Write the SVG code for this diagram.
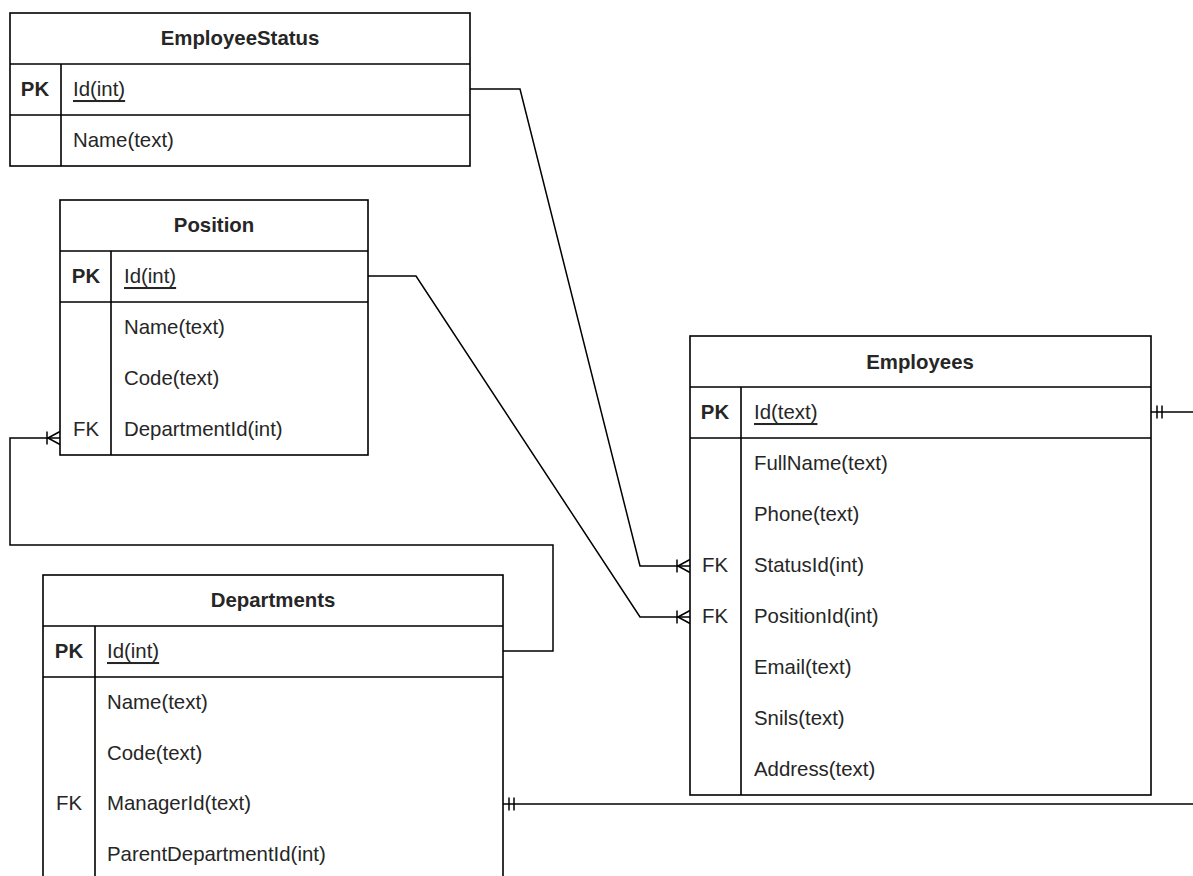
<svg xmlns="http://www.w3.org/2000/svg" width="1193" height="876" viewBox="0 0 1193 876">
<style>
.box{fill:#fff;stroke:#000;stroke-width:1.6}
.ln{fill:none;stroke:#000;stroke-width:1.6}
.t{font-family:"Liberation Sans",Arial,sans-serif;font-size:20.4px;fill:#262626;dominant-baseline:central}
.h{font-weight:bold;text-anchor:middle}
.k{font-weight:bold;text-anchor:middle}
.fk{text-anchor:middle}
.u{text-decoration:underline}
.c{fill:none;stroke:#000;stroke-width:1.5}
</style>
<defs>
<marker id="many" markerUnits="userSpaceOnUse" viewBox="-16 -8 17 16" refX="0" refY="0" markerWidth="17" markerHeight="16" orient="auto" overflow="visible">
<path d="M-13,-6.5 V6.5 M-12,0 L0,-6.5 M-12,0 L0,6.5" fill="none" stroke="#000" stroke-width="1.5"/>
</marker>
<marker id="one" markerUnits="userSpaceOnUse" viewBox="0 -8 16 16" refX="0" refY="0" markerWidth="16" markerHeight="16" orient="auto" overflow="visible">
<path d="M6,-6.5 V6.5 M11,-6.5 V6.5" fill="none" stroke="#000" stroke-width="1.5"/>
</marker>
</defs>
<rect width="1193" height="876" fill="#fff"/>

<g id="connectors">
<path class="c" d="M470,89 H520 L640,566 H690" marker-end="url(#many)"/>
<path class="c" d="M368,276 H416 L640,617 H690" marker-end="url(#many)"/>
<path class="c" d="M503,651 H553 V545 H10 V438 H60" marker-end="url(#many)"/>
<path class="c" d="M1151,412 H1193" marker-start="url(#one)"/>
<path class="c" d="M503,804 H1193" marker-start="url(#one)"/>
</g>

<g id="EmployeeStatus">
<rect class="box" x="10" y="13" width="460" height="153"/>
<path class="ln" d="M10,64 H470 M10,115 H470 M61,64 V166"/>
<text class="t h" x="240" y="38">EmployeeStatus</text>
<text class="t k" x="35" y="89">PK</text>
<text class="t u" x="73" y="89">Id(int)</text>
<text class="t" x="73" y="140">Name(text)</text>
</g>

<g id="Position">
<rect class="box" x="60" y="200" width="308" height="255"/>
<path class="ln" d="M60,251 H368 M60,302 H368 M111,251 V455"/>
<text class="t h" x="214" y="225">Position</text>
<text class="t k" x="86" y="276">PK</text>
<text class="t u" x="124" y="276">Id(int)</text>
<text class="t" x="124" y="327">Name(text)</text>
<text class="t" x="124" y="378">Code(text)</text>
<text class="t fk" x="86" y="429">FK</text>
<text class="t" x="124" y="429">DepartmentId(int)</text>
</g>

<g id="Employees">
<rect class="box" x="690" y="336" width="461" height="459"/>
<path class="ln" d="M690,387 H1151 M690,438 H1151 M741,387 V795"/>
<text class="t h" x="920" y="362">Employees</text>
<text class="t k" x="715" y="412">PK</text>
<text class="t u" x="754" y="412">Id(text)</text>
<text class="t" x="754" y="463">FullName(text)</text>
<text class="t" x="754" y="514">Phone(text)</text>
<text class="t fk" x="715" y="565">FK</text>
<text class="t" x="754" y="565">StatusId(int)</text>
<text class="t fk" x="715" y="616">FK</text>
<text class="t" x="754" y="616">PositionId(int)</text>
<text class="t" x="754" y="667">Email(text)</text>
<text class="t" x="754" y="718">Snils(text)</text>
<text class="t" x="754" y="769">Address(text)</text>
</g>

<g id="Departments">
<rect class="box" x="43" y="575" width="460" height="306"/>
<path class="ln" d="M43,626 H503 M43,677 H503 M95,626 V881"/>
<text class="t h" x="273" y="600">Departments</text>
<text class="t k" x="69" y="651">PK</text>
<text class="t u" x="107" y="651">Id(int)</text>
<text class="t" x="107" y="702">Name(text)</text>
<text class="t" x="107" y="753">Code(text)</text>
<text class="t fk" x="69" y="803">FK</text>
<text class="t" x="107" y="803">ManagerId(text)</text>
<text class="t" x="107" y="854">ParentDepartmentId(int)</text>
</g>
</svg>
